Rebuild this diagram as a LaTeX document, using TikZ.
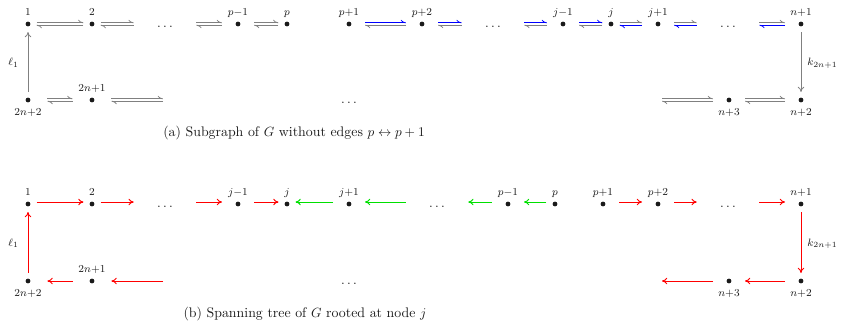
\documentclass[tikz,border=0pt]{standalone}
\usetikzlibrary{arrows.meta,shapes.geometric}
\definecolor{ink}{HTML}{1A1A1A}
\definecolor{linkgray}{HTML}{808080}
\definecolor{pathblue}{HTML}{0000FF}
\definecolor{treered}{HTML}{FF0000}
\definecolor{treegreen}{HTML}{00E000}

\begin{document}
\begin{tikzpicture}[
 x=.75pt,y=.75pt,
 vtx/.style={ellipse,fill=ink,inner sep=0pt,minimum size=3.6pt,outer ysep=4.2pt,outer xsep=#1},
 vtx/.default=4.6pt,
 vtxw/.style={vtx=10.2pt},
 vtxx/.style={vtx=12.8pt},
 lbl/.style={font=\footnotesize,inner sep=0pt,text depth=0pt,text=ink},
 gap/.style={inner sep=0pt,minimum width=46.5pt,text height=4.5pt,text depth=0pt,text=ink},
 subcap/.style={font=\fontsize{10.4}{12.5}\selectfont,text=ink},
 hp/.style={-{To[harpoon,length=4pt,width=4.5pt]},line width=.6pt},
 tree/.style={-{To[length=4pt,width=5pt]},line width=.7pt},
 lift/.style={transform canvas={yshift=#1}}
]
\useasboundingbox (0,0) rectangle (847,-329);

% (a) Subgraph without the edges p <-> p+1.
\node[vtx,label={[lbl]above:$1$}] (a1) at (28,-24) {};
\node[vtx,label={[lbl]above:$2$}] (a2) at (92,-24) {};
\node[gap] (ad1) at (165,-24) {$\dots$};
\node[vtxw,label={[lbl]above:$p{-}1$}] (ap0) at (238,-24) {};
\node[vtx,label={[lbl]above:$p$}] (ap) at (287,-24) {};
\node[vtxw,label={[lbl]above:$p{+}1$}] (aq) at (349,-24) {};
\node[vtxw,label={[lbl]above:$p{+}2$}] (aq2) at (422,-24) {};
\node[gap] (ad2) at (493,-24) {$\dots$};
\node[vtxw,label={[lbl]above:$j{-}1$}] (aj0) at (563,-24) {};
\node[vtx,label={[lbl]above:$j$}] (aj) at (611,-24) {};
\node[vtxw,label={[lbl]above:$j{+}1$}] (aj2) at (658,-24) {};
\node[gap] (ad3) at (728,-24) {$\dots$};
\node[vtxw,label={[lbl]above:$n{+}1$}] (an1) at (801,-24) {};
\node[vtxx,label={[lbl]below:$2n{+}2$}] (a22) at (28,-100) {};
\node[vtxx,label={[lbl]above:$2n{+}1$}] (a21) at (92,-100) {};
\coordinate (al) at (163,-100);
\node[gap] (ad4) at (349,-100) {$\dots$};
\coordinate (ar) at (662,-100);
\node[vtxw,label={[lbl]below:$n{+}3$}] (an3) at (729,-100) {};
\node[vtxw,label={[lbl]below:$n{+}2$}] (an2) at (801,-100) {};

% Harpoon pairs: upper one forward, lower one backward.
\foreach \s/\t/\cu/\cl in {a1/a2/linkgray/linkgray,a2/ad1/linkgray/linkgray,
  ad1/ap0/linkgray/linkgray,ap0/ap/linkgray/linkgray,
  aq/aq2/pathblue/linkgray,aq2/ad2/pathblue/linkgray,
  ad2/aj0/pathblue/linkgray,aj0/aj/pathblue/linkgray,
  aj/aj2/linkgray/pathblue,aj2/ad3/linkgray/pathblue,ad3/an1/linkgray/pathblue,
  a22/a21/linkgray/linkgray,a21/al/linkgray/linkgray,
  ar/an3/linkgray/linkgray,an3/an2/linkgray/linkgray} {
  \draw[hp,\cu,lift=.9pt] (\s) -- (\t);
  \draw[hp,\cl,lift=-.9pt] (\t) -- (\s);
}
\draw[tree,linkgray,line width=.6pt] (a22) -- node[lbl,left=6.7pt] {$\ell_1$} (a1);
\draw[tree,linkgray,line width=.6pt] (an1) -- node[lbl,right=4.5pt] {$k_{2n+1}$} (an2);
\node[subcap] (capa) at (294,-133) {(a) Subgraph of $G$ without edges $p\leftrightarrow p+1$};

% (b) Spanning tree rooted at j.
\node[vtx,label={[lbl]above:$1$}] (b1) at (28,-204) {};
\node[vtx,label={[lbl]above:$2$}] (b2) at (92,-204) {};
\node[gap] (bd1) at (165,-204) {$\dots$};
\node[vtxw,label={[lbl]above:$j{-}1$}] (bj0) at (238,-204) {};
\node[vtx,label={[lbl]above:$j$}] (bj) at (287,-204) {};
\node[vtxw,label={[lbl]above:$j{+}1$}] (bj2) at (349,-204) {};
\node[gap] (bd2) at (437,-204) {$\dots$};
\node[vtxw,label={[lbl]above:$p{-}1$}] (bp0) at (508,-204) {};
\node[vtx,label={[lbl]above:$p$}] (bp) at (555,-204) {};
\node[vtxw,label={[lbl]above:$p{+}1$}] (bq) at (603,-204) {};
\node[vtxw,label={[lbl]above:$p{+}2$}] (bq2) at (658,-204) {};
\node[gap] (bd3) at (728,-204) {$\dots$};
\node[vtxw,label={[lbl]above:$n{+}1$}] (bn1) at (801,-204) {};
\node[vtxx,label={[lbl]below:$2n{+}2$}] (b22) at (28,-281) {};
\node[vtxx,label={[lbl]above:$2n{+}1$}] (b21) at (92,-281) {};
\coordinate (bl) at (163,-281);
\node[gap] (bd4) at (349,-281) {$\dots$};
\coordinate (br) at (662,-281);
\node[vtxw,label={[lbl]below:$n{+}3$}] (bn3) at (729,-281) {};
\node[vtxw,label={[lbl]below:$n{+}2$}] (bn2) at (801,-281) {};

\foreach \s/\t in {b1/b2,b2/bd1,bd1/bj0,bj0/bj,bq/bq2,bq2/bd3,bd3/bn1}
  \draw[tree,treered,lift=1.5pt] (\s) -- (\t);
\foreach \s/\t in {bj2/bj,bd2/bj2,bp0/bd2,bp/bp0}
  \draw[tree,treegreen,lift=1.5pt] (\s) -- (\t);
\foreach \s/\t in {bn2/bn3,bn3/br,bl/b21,b21/b22}
  \draw[tree,treered] (\s) -- (\t);
\draw[tree,treered] (b22) -- node[lbl,left=6.7pt] {$\ell_1$} (b1);
\draw[tree,treered] (bn1) -- node[lbl,right=4.5pt] {$k_{2n+1}$} (bn2);
\node[subcap] (capb) at (305,-314) {(b) Spanning tree of $G$ rooted at node $j$};
\end{tikzpicture}
\end{document}
